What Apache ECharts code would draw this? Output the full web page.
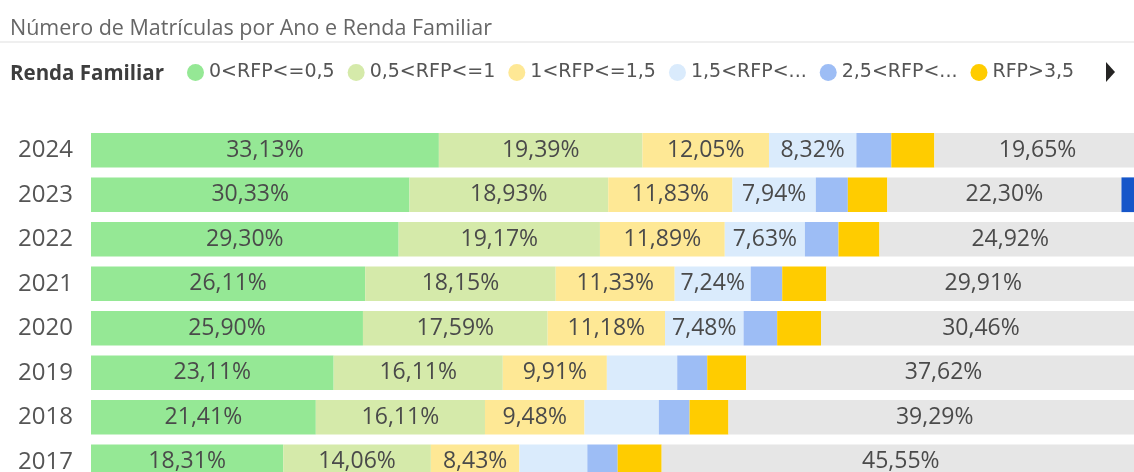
<!DOCTYPE html>
<html>
<head>
<meta charset="utf-8">
<title>Número de Matrículas por Ano e Renda Familiar</title>
<script src="https://cdn.jsdelivr.net/npm/echarts@6/dist/echarts.min.js"></script>
<style>
	html, body { margin: 0; padding: 0; background: #fff; }
	#main { width: 1134px; height: 472px; }
</style>
</head>
<body>
<div id="main"></div>
<script>
// anos (de cima para baixo)
var anos = ['2024', '2023', '2022', '2021', '2020', '2019', '2018', '2017'];

// percentual de matrículas por faixa de renda familiar per capita
var rfp_0_05   = [33.13, 30.33, 29.30, 26.11, 25.90, 23.11, 21.41, 18.31];
var rfp_05_1   = [19.39, 18.93, 19.17, 18.15, 17.59, 16.11, 16.11, 14.06];
var rfp_1_15   = [12.05, 11.83, 11.89, 11.33, 11.18, 9.91, 9.48, 8.43];
var rfp_15_25  = [8.32, 7.94, 7.63, 7.24, 7.48, 6.70, 7.08, 6.47];
var rfp_25_35  = [3.33, 3.05, 3.20, 3.00, 3.20, 2.86, 2.93, 2.89];
var rfp_35     = [4.10, 3.76, 3.90, 4.20, 4.18, 3.70, 3.70, 4.19];
var naoInform  = [19.65, 22.30, 24.92, 29.91, 30.46, 37.62, 39.29, 45.55];
var naoDeclar  = [0, 1.86, 0, 0, 0, 0, 0, 0];

var nomes = ['0<RFP<=0,5', '0,5<RFP<=1', '1<RFP<=1,5', '1,5<RFP<=2,5', '2,5<RFP<=3,5', 'RFP>3,5', 'Não informada', 'Não declarada'];
var valores = [rfp_0_05, rfp_05_1, rfp_1_15, rfp_15_25, rfp_25_35, rfp_35, naoInform, naoDeclar];
var cores = ['#95E895', '#D5EAAA', '#FEE895', '#DAEBFC', '#9DBDF5', '#FFCC00', '#E6E6E6', '#1656C9'];

var fonte = '"Segoe UI", "Open Sans", sans-serif';

var chart = echarts.init(document.getElementById('main'));

var series = [];
for (var i = 0; i < nomes.length; i++) {
	series.push({
		name: nomes[i],
		type: 'bar',
		stack: 'total',
		barCategoryGap: '22%',
		data: valores[i],
		itemStyle: { color: cores[i] },
		label: {
			show: true,
			position: 'inside',
			color: '#4a4a4a',
			fontFamily: fonte,
			fontSize: 23,
			formatter: function (p) {
				// rótulo só quando cabe na barra
				if (p.value < 7.2) return '';
				return p.value.toFixed(2).replace('.', ',') + '%';
			}
		},
		emphasis: { disabled: true }
	});
}

var option = {
	animation: false,
	backgroundColor: '#fff',
	title: [
		{
			text: 'Número de Matrículas por Ano e Renda Familiar',
			left: 5,
			top: 13,
			textStyle: { color: '#666', fontFamily: fonte, fontSize: 21.5, fontWeight: 'normal' }
		},
		{
			text: 'Renda Familiar',
			left: 5,
			top: 59,
			textStyle: { color: '#3d3d3d', fontFamily: fonte, fontSize: 20.5, fontWeight: 'bold' }
		}
	],
	legend: {
		data: nomes.slice(0, 6),
		left: 187,
		top: 63,
		padding: 0,
		icon: 'circle',
		itemWidth: 17,
		itemHeight: 17,
		itemGap: 13,
		selectedMode: false,
		textStyle: { color: '#555', fontFamily: '"DejaVu Sans", sans-serif', fontSize: 19 },
		formatter: function (name) {
			return name.length > 10 ? name.slice(0, 8) + '...' : name;
		}
	},
	graphic: [
		{
			type: 'line',
			shape: { x1: 0, y1: 42, x2: 1134, y2: 42 },
			style: { stroke: '#EFEFEF', lineWidth: 2 }
		},
		{
			type: 'polygon',
			shape: { points: [[1106, 62], [1106, 82], [1115, 72]] },
			style: { fill: '#252423' }
		}
	],
	grid: {
		left: 91,
		width: 1050,
		top: 128,
		height: 356,
		outerBoundsMode: 'none',
		containLabel: false
	},
	xAxis: {
		type: 'value',
		min: 0,
		max: 100,
		show: false
	},
	yAxis: {
		type: 'category',
		data: anos,
		inverse: true,
		axisLine: { show: false },
		axisTick: { show: false },
		axisLabel: {
			margin: 18,
			color: '#555',
			fontFamily: fonte,
			fontSize: 24
		}
	},
	series: series
};

chart.setOption(option);
</script>
</body>
</html>
